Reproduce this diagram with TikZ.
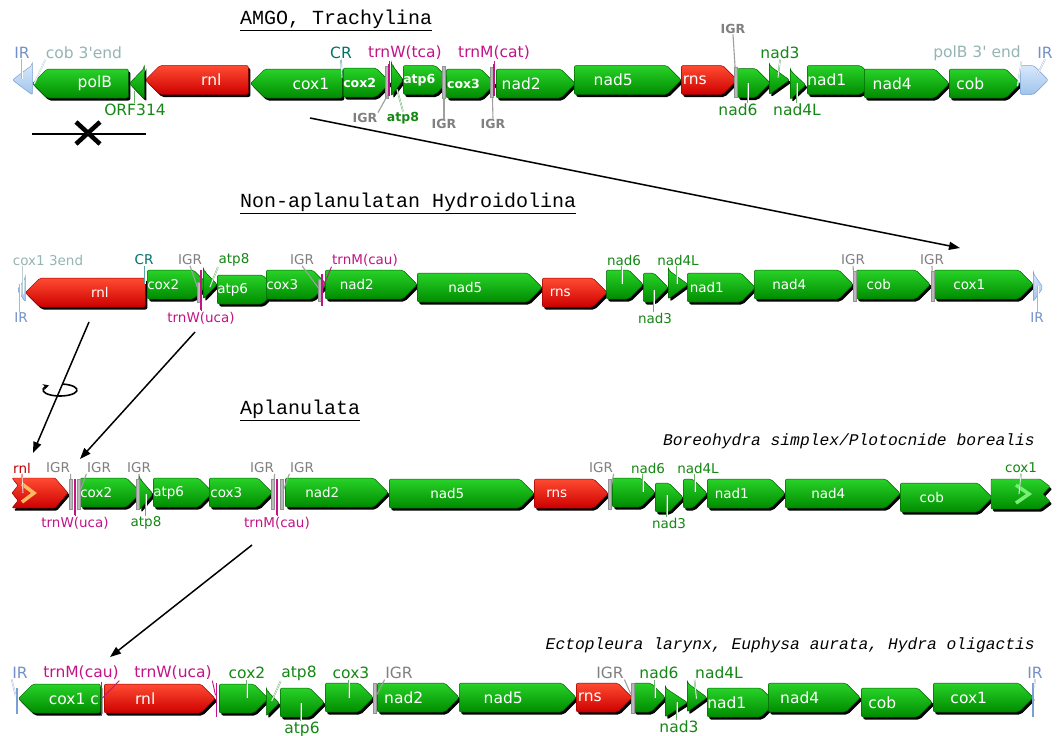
\documentclass[tikz,border=0pt]{standalone}
\usepackage{fontspec}
\setmainfont{DejaVu Sans}
\newfontfamily\plainsans{DejaVu Sans}
\newfontfamily\monofont{Liberation Mono}
\usepackage{xcolor}
\usepackage{tikz}
\usetikzlibrary{shapes.symbols, shapes.geometric, arrows.meta, positioning, calc, shadows}

\definecolor{gtop}{RGB}{40,210,40}
\definecolor{gbot}{RGB}{0,140,0}
\definecolor{gline}{RGB}{0,100,0}
\definecolor{rtop}{RGB}{255,75,50}
\definecolor{rbot}{RGB}{205,0,0}
\definecolor{rline}{RGB}{150,0,0}
\definecolor{btop}{RGB}{215,232,252}
\definecolor{bbot}{RGB}{160,195,235}
\definecolor{bline}{RGB}{120,160,210}
\definecolor{lblgreen}{RGB}{20,135,20}
\definecolor{trnacol}{RGB}{195,20,135}
\definecolor{crteal}{RGB}{0,115,105}
\definecolor{igrgray}{RGB}{128,128,128}
\definecolor{endgray}{RGB}{150,180,180}
\definecolor{irtext}{RGB}{115,145,200}
\definecolor{rnltext}{RGB}{190,0,0}
\definecolor{chevorange}{RGB}{255,185,95}
\definecolor{chevgreen}{RGB}{120,240,120}

\newcommand\genebig{\fontsize{15.5}{18}\selectfont}
\newcommand\genesmall{\fontsize{13.5}{16}\selectfont}
\newcommand\lblbold{\fontsize{12.5}{15}\selectfont\bfseries}
\newcommand\cladefont{\monofont\fontsize{20}{24}\selectfont}
\newcommand\speciesfont{\monofont\itshape\fontsize{16.3}{19}\selectfont}

\begin{document}
\begin{tikzpicture}[
    x=1pt, y=-1pt,
    gshadow/.style={drop shadow={shadow xshift=2pt, shadow yshift=-2.5pt, opacity=1, fill=black}},
    genebase/.style={shape=signal, anchor=west, minimum height=29, inner sep=0pt, rounded corners=2pt, line width=0.5pt, text=white},
    greenfill/.style={draw=gline, top color=gtop, bottom color=gbot},
    redfill/.style={draw=rline, top color=rtop, bottom color=rbot},
    fwdtext/.style={execute at end node={\hspace*{14.5pt}}},
    revtext/.style={execute at begin node={\hspace*{14.5pt}}},
    fg/.style={genebase, signal to=east, greenfill, gshadow},
    rg/.style={genebase, signal to=west, greenfill, gshadow},
    fgl/.style={fg, fwdtext},
    rgl/.style={rg, revtext},
    fr/.style={genebase, signal to=east, redfill, gshadow, fwdtext},
    rr/.style={genebase, signal to=west, redfill, gshadow, revtext},
    fb/.style={genebase, signal to=east, draw=bline, top color=btop, bottom color=bbot},
    rb/.style={genebase, signal to=west, draw=bline, top color=btop, bottom color=bbot},
    tri/.style={minimum width=0pt, signal pointer angle=#1},
    igr/.style={rectangle, fill=gray!55, draw=gray!85, line width=0.3pt, minimum width=3, minimum height=30, inner sep=0pt},
    trna/.style={rectangle, fill=trnacol, minimum width=1.6, minimum height=32, inner sep=0pt},
    irbar/.style={rectangle, fill=bline, minimum width=2, minimum height=26, inner sep=0pt},
    lbl/.style={text=#1, inner sep=0.5pt},
    leader/.style={draw=#1!65, double=white, double distance=0.6pt, line width=0.45pt},
    igrline/.style={draw=gray!75, line width=1.1pt},
    trnaline/.style={draw=trnacol, line width=0.9pt},
    bigarrow/.style={-{Triangle[length=11pt, width=8pt]}, line width=1.5pt}
]
\useasboundingbox[fill=white] (0,0) rectangle (1060,736);

% === ROW 1: AMGO, Trachylina ===
\node[font=\cladefont, anchor=west, inner sep=0pt] (t-amgo) at (240,20) {\underline{AMGO, Trachylina}};
\begin{scope}[font=\genebig]
\node[rb, tri=74, minimum height=30] (a-irl) at (12,80) {};
\node[rgl, minimum width=96] (a-polB) at (32,83.5) {polB};
\node[rg, tri=92, minimum height=31] (a-orf) at (129,83.5) {};
\node[rr, minimum width=103] (a-rnl) at (145,80) {rnl};
\node[rgl, minimum width=92] (a-cox1) at (250,83.5) {cox1};
\node[fg, minimum width=47, font=\lblbold] (a-cox2) at (343,82.5) {cox2};
\node[fg, tri=106, minimum height=32] (a-atp8) at (391,80) {};
\node[fg, minimum width=42, font=\lblbold] (a-atp6) at (403,80) {atp6};
\node[fg, minimum width=49, font=\lblbold] (a-cox3) at (446,83.5) {cox3};
\node[fgl, minimum width=79] (a-nad2) at (496,83.5) {nad2};
\node[fgl, minimum width=107] (a-nad5) at (574,80) {nad5};
\node[fr, minimum width=56] (a-rns) at (681,80) {rns};
\node[fg, minimum width=33] (a-nad6) at (737,83) {};
\node[fg, tri=71] (a-nad3) at (769,80) {};
\node[fg, tri=86] (a-nad4L) at (790,85) {};
\node[fgl, minimum width=57] (a-nad1) at (807,80) {nad1};
\node[fgl, minimum width=85] (a-nad4) at (864,83.5) {nad4};
\node[fgl, minimum width=71] (a-cob) at (949,83.5) {cob};
\node[fb, minimum width=28] (a-irr) at (1020,80) {};

\node[igr, minimum height=32] (a-igr1) at (387,82) {};
\node[trna] (a-trnW) at (389,80) {};
\node[igr, minimum height=32] (a-igr2) at (444,82) {};
\node[igr] (a-igr3) at (492,82) {};
\node[trna] (a-trnM) at (494,80) {};
\node[igr] (a-igr4) at (736,82) {};

\node[lbl=irtext] (a-l-irl) at (22,53) {IR};
\node[lbl=endgray] (a-l-cobend) at (84,53) {\plainsans cob 3'end};
\node[lbl=lblgreen] (a-l-orf) at (135,110) {ORF314};
\node[lbl=crteal] (a-l-cr) at (341,53) {CR};
\node[lbl=trnacol] (a-l-trnW) at (405,53) {trnW(tca)};
\node[lbl=igrgray, font=\lblbold] (a-l-igr1) at (365,118) {IGR};
\node[lbl=lblgreen, font=\lblbold] (a-l-atp8) at (403,118) {atp8};
\node[lbl=igrgray, font=\lblbold] (a-l-igr2) at (444,124) {IGR};
\node[lbl=trnacol] (a-l-trnM) at (494,53) {trnM(cat)};
\node[lbl=igrgray, font=\lblbold] (a-l-igr3) at (493,124) {IGR};
\node[lbl=igrgray, font=\lblbold] (a-l-igr4) at (733,29) {IGR};
\node[lbl=lblgreen] (a-l-nad6) at (738,110) {nad6};
\node[lbl=lblgreen] (a-l-nad3) at (780,53) {nad3};
\node[lbl=lblgreen] (a-l-nad4L) at (797,110) {nad4L};
\node[lbl=endgray] (a-l-polBend) at (977,53) {\plainsans polB 3' end};
\node[lbl=irtext] (a-l-irr) at (1045,53) {IR};
\end{scope}

\draw[leader=irtext] (a-l-irl.south) -- ++(0,20);
\draw[leader=endgray] (a-l-cobend.south west) -- ++(-11,24);
\draw[leader=lblgreen] (a-l-orf.north) -- ++(0,-12);
\draw[leader=crteal] (a-l-cr.south) -- ++(1,18);
\draw[trnaline] (a-l-trnW.south -| a-trnW) -- (a-trnW);
\draw[igrline] (a-l-igr1.north east) -- ++(10,-18);
\draw[leader=lblgreen] (a-l-atp8.north) -- ++(-6,-22);
\draw[igrline] (a-l-igr2.north) -- (a-igr2);
\draw[trnaline] (a-l-trnM.south -| a-trnM) -- (a-trnM);
\draw[igrline] (a-l-igr3.north) -- (a-igr3);
\draw[igrline] (a-l-igr4.south) -- (a-igr4);
\draw[leader=lblgreen] ([xshift=10pt]a-l-nad6.north) -- ++(0,-20);
\draw[leader=lblgreen] (a-l-nad3.south) -- ++(-2,18);
\draw[leader=lblgreen] (a-l-nad4L.north) -- ++(0,-20);
\draw[leader=endgray] (a-l-polBend.south east) -- ++(-4,25);
\draw[leader=irtext] (a-l-irr.south) -- ++(-8,16);

% deleted region under polB
\coordinate (del-a) at (32,134);
\coordinate (del-b) at (146,134);
\coordinate (del-x) at (88,133);
\draw[line width=2.5pt] (del-a) -- (del-b);
\draw[line width=4.5pt] ([shift={(-12,-11)}]del-x) -- ([shift={(12,11)}]del-x)
    ([shift={(-12,11)}]del-x) -- ([shift={(12,-11)}]del-x);

% === ROW 2: Non-aplanulatan Hydroidolina ===
\node[font=\cladefont, anchor=west, inner sep=0pt] (t-non) at (240,203) {\underline{Non-aplanulatan Hydroidolina}};
\begin{scope}[font=\genesmall]
\node[rb, tri=112, minimum height=24] (b-irl) at (17,290) {};
\node[rr, minimum width=120] (b-rnl) at (25,292.5) {rnl};
\node[fgl, minimum width=50] (b-cox2) at (147,284.5) {cox2};
\node[fg, tri=92] (b-atp8) at (203,284.5) {};
\node[fgl, minimum width=48] (b-atp6) at (217,289.5) {atp6};
\node[fgl, minimum width=52] (b-cox3) at (266,284.5) {cox3};
\node[fgl, minimum width=92] (b-nad2) at (325,284.5) {nad2};
\node[fgl, minimum width=125] (b-nad5) at (417,287.5) {nad5};
\node[fr, minimum width=65] (b-rns) at (542,292.5) {rns};
\node[fg, minimum width=37] (b-nad6) at (606,284.5) {};
\node[fg, minimum width=25] (b-nad3) at (643,287.5) {};
\node[fg, tri=72] (b-nad4L) at (668,284.5) {};
\node[fgl, minimum width=68] (b-nad1) at (687,287.5) {nad1};
\node[fgl, minimum width=99] (b-nad4) at (754,284.5) {nad4};
\node[fgl, minimum width=74] (b-cob) at (856,284.5) {cob};
\node[fgl, minimum width=99] (b-cox1) at (934,284.5) {cox1};
\node[fb, tri=110, minimum height=28] (b-irr) at (1033,287.5) {};

\node[igr, minimum height=20] (b-igr1) at (199,292) {};
\node[trna, minimum height=40] (b-trnW) at (201,290) {};
\node[igr, minimum height=22] (b-igr2) at (320,290) {};
\node[trna] (b-trnM) at (322,290) {};
\node[igr] (b-igr3) at (854.5,286) {};
\node[igr] (b-igr4) at (932.5,286) {};

\node[lbl=endgray] (b-l-coxend) at (48,260) {cox1 3end};
\node[lbl=irtext] (b-l-irl) at (21,318) {IR};
\node[lbl=crteal] (b-l-cr) at (144,260) {CR};
\node[lbl=igrgray] (b-l-igr1) at (190,260) {IGR};
\node[lbl=trnacol] (b-l-trnW) at (201,318) {trnW(uca)};
\node[lbl=lblgreen] (b-l-atp8) at (234,260) {atp8};
\node[lbl=igrgray] (b-l-igr2) at (302,260) {IGR};
\node[lbl=trnacol] (b-l-trnM) at (365,260) {trnM(cau)};
\node[lbl=lblgreen] (b-l-nad6) at (624,260) {nad6};
\node[lbl=lblgreen] (b-l-nad3) at (655,318) {nad3};
\node[lbl=lblgreen] (b-l-nad4L) at (678,260) {nad4L};
\node[lbl=igrgray] (b-l-igr3) at (853,260) {IGR};
\node[lbl=igrgray] (b-l-igr4) at (932,260) {IGR};
\node[lbl=irtext] (b-l-irr) at (1037,318) {IR};
\end{scope}

\draw[leader=endgray] ([xshift=-25pt]b-l-coxend.south) -- ++(0,28);
\draw[leader=irtext] ([xshift=-1pt]b-l-irl.north) -- ++(0,-28);
\draw[leader=crteal] ([xshift=1pt]b-l-cr.south) -- ++(0,18);
\draw[igrline] (b-l-igr1.south) -- (b-igr1);
\draw[trnaline] (b-l-trnW.north) -- (b-trnW);
\draw[leader=lblgreen] (b-l-atp8.south west) -- ++(-8,20);
\draw[igrline] (b-l-igr2.south) -- (b-igr2);
\draw[trnaline] (b-l-trnM.south west) -- (b-trnM);
\draw[leader=lblgreen] ([xshift=-2pt]b-l-nad6.south) -- ++(0,18);
\draw[leader=lblgreen] ([xshift=-1pt]b-l-nad3.north) -- ++(0,-22);
\draw[leader=lblgreen] ([xshift=-1pt]b-l-nad4L.south) -- ++(0,18);
\draw[igrline] (b-l-igr3.south) -- (b-igr3);
\draw[igrline] (b-l-igr4.south) -- (b-igr4);
\draw[leader=irtext] ([xshift=1pt]b-l-irr.north) -- ++(0,-26);

% === ROW 3: Aplanulata ===
\node[font=\cladefont, anchor=west, inner sep=0pt] (t-apl) at (240,410) {\underline{Aplanulata}};
\node[font=\speciesfont, anchor=east, inner sep=0pt] (t-bor) at (1035,441) {Boreohydra simplex/Plotocnide borealis};
\begin{scope}[font=\genesmall]
\path[redfill, gshadow, rounded corners=1pt] (12,478) -- (55,478) -- (68,493) -- (55,508) -- (12,508)
    -- (18,500.5) -- (12,493) -- (18,485.5) -- cycle;
\draw[line width=3.5pt, color=chevorange] (22,484) -- (34,493) -- (22,502);
\coordinate (c-rnl) at (23,493);
\node[fgl, minimum width=57] (c-cox2) at (80,492.5) {cox2};
\node[fg, tri=98, minimum height=32] (c-atp8) at (139,494) {};
\node[fgl, minimum width=57] (c-atp6) at (153,492.5) {atp6};
\node[fgl, minimum width=63] (c-cox3) at (209,492.5) {cox3};
\node[fgl, minimum width=103] (c-nad2) at (285,492.5) {nad2};
\node[fgl, minimum width=145] (c-nad5) at (389,493.5) {nad5};
\node[fr, minimum width=74] (c-rns) at (534,493.5) {rns};
\node[fg, minimum width=43] (c-nad6) at (612,492.5) {};
\node[fg, minimum width=28] (c-nad3) at (655,497.5) {};
\node[fg, minimum width=24] (c-nad4L) at (683,493.5) {};
\node[fgl, minimum width=78] (c-nad1) at (707,493.5) {nad1};
\node[fgl, minimum width=115] (c-nad4) at (785,493.5) {nad4};
\node[fgl, minimum width=92] (c-cob) at (900,497.5) {cob};
\path[greenfill, gshadow, rounded corners=1pt] (991,479) -- (1040,479) -- (1050,486.5) -- (1043,494)
    -- (1050,501.5) -- (1040,509) -- (991,509) -- cycle;
\draw[line width=3.5pt, color=chevgreen] (1016,485) -- (1029,494) -- (1016,503);
\coordinate (c-cox1) at (1019,494);

\node[igr] (c-igr1) at (71,494) {};
\node[igr] (c-igr2) at (79,494) {};
\node[trna, minimum height=36] (c-trnW) at (75,497) {};
\node[igr] (c-igr3) at (138,494) {};
\node[igr] (c-igr4) at (273,494) {};
\node[igr] (c-igr5) at (282,494) {};
\node[trna, minimum height=36] (c-trnM) at (277,497) {};
\node[igr] (c-igr6) at (610,494) {};

\node[lbl=rnltext] (c-l-rnl) at (22,468) {rnl};
\node[lbl=igrgray] (c-l-igr1) at (58,468) {IGR};
\node[lbl=igrgray] (c-l-igr2) at (99,468) {IGR};
\node[lbl=trnacol] (c-l-trnW) at (75,523) {trnW(uca)};
\node[lbl=igrgray] (c-l-igr3) at (139,468) {IGR};
\node[lbl=lblgreen] (c-l-atp8) at (146,523) {atp8};
\node[lbl=igrgray] (c-l-igr4) at (262,468) {IGR};
\node[lbl=igrgray] (c-l-igr5) at (302,468) {IGR};
\node[lbl=trnacol] (c-l-trnM) at (277,523) {trnM(cau)};
\node[lbl=igrgray] (c-l-igr6) at (601,468) {IGR};
\node[lbl=lblgreen] (c-l-nad6) at (648,468) {nad6};
\node[lbl=lblgreen] (c-l-nad3) at (669,523) {nad3};
\node[lbl=lblgreen] (c-l-nad4L) at (698,468) {nad4L};
\node[lbl=lblgreen] (c-l-cox1) at (1021,468) {cox1};
\end{scope}

\draw[leader=rnltext] (c-l-rnl.south) -- (c-rnl);
\draw[igrline] (c-l-igr1.south east) -- (c-igr1);
\draw[igrline] (c-l-igr2.south west) -- (c-igr2);
\draw[trnaline] (c-l-trnW.north) -- (c-trnW);
\draw[igrline] (c-l-igr3.south) -- (c-igr3);
\draw[leader=lblgreen] (c-l-atp8.north) -- ++(0,-22);
\draw[igrline] (c-l-igr4.south east) -- (c-igr4);
\draw[igrline] (c-l-igr5.south west) -- (c-igr5);
\draw[trnaline] (c-l-trnM.north) -- (c-trnM);
\draw[igrline] (c-l-igr6.south east) -- (c-igr6);
\draw[leader=lblgreen] ([xshift=-5pt]c-l-nad6.south) -- ++(0,18);
\draw[leader=lblgreen] ([xshift=-2pt]c-l-nad3.north) -- ++(0,-22);
\draw[leader=lblgreen] ([xshift=-3pt]c-l-nad4L.south) -- ++(0,18);
\draw[leader=lblgreen] (c-l-cox1.south) -- (c-cox1);

% === ROW 4: Ectopleura, Euphysa, Hydra ===
\node[font=\speciesfont, anchor=east, inner sep=0pt] (t-ect) at (1035,645) {Ectopleura larynx, Euphysa aurata, Hydra oligactis};
\begin{scope}[font=\genebig]
\node[rgl, minimum width=82] (d-cox1c) at (18,698.5) {cox1 c};
\node[fr, minimum width=111] (d-rnl) at (104,698.5) {rnl};
\node[fg, minimum width=49] (d-cox2) at (219,698.5) {};
\node[fg, tri=90, minimum height=26] (d-atp8) at (266,703) {};
\node[fg, minimum width=44] (d-atp6) at (280,702.5) {};
\node[fg, minimum width=48] (d-cox3) at (325,697.5) {};
\node[fgl, minimum width=82] (d-nad2) at (377,697.5) {nad2};
\node[fgl, minimum width=117] (d-nad5) at (459,697.5) {nad5};
\node[fr, minimum width=56] (d-rns) at (576,697.5) {rns};
\node[fg, minimum width=32] (d-nad6) at (633,697.5) {};
\node[fg, tri=66] (d-nad3) at (665,702.5) {};
\node[fg, tri=72] (d-nad4L) at (687,697.5) {};
\node[fgl, minimum width=63] (d-nad1) at (707,702.5) {nad1};
\node[fgl, minimum width=92] (d-nad4) at (768,697.5) {nad4};
\node[fgl, minimum width=71] (d-cob) at (861,702.5) {cob};
\node[fgl, minimum width=100] (d-cox1) at (933,697.5) {cox1};

\node[irbar] (d-irl) at (17,701) {};
\node[trna, minimum height=34] (d-trnM) at (101.5,699) {};
\node[trna, minimum height=34] (d-trnW) at (216.5,700) {};
\node[igr] (d-igr1) at (375,698) {};
\node[igr] (d-igr2) at (632.5,698) {};
\node[irbar, minimum height=34] (d-irr) at (1033,700) {};

\node[lbl=irtext] (d-l-irl) at (20,673) {IR};
\node[lbl=trnacol] (d-l-trnM) at (81,673) {trnM(cau)};
\node[lbl=trnacol] (d-l-trnW) at (173,673) {trnW(uca)};
\node[lbl=lblgreen] (d-l-cox2) at (247,673) {cox2};
\node[lbl=lblgreen] (d-l-atp8) at (299,673) {atp8};
\node[lbl=lblgreen] (d-l-atp6) at (302,729) {atp6};
\node[lbl=lblgreen] (d-l-cox3) at (351,673) {cox3};
\node[lbl=igrgray] (d-l-igr1) at (399,673) {IGR};
\node[lbl=igrgray] (d-l-igr2) at (610,673) {IGR};
\node[lbl=lblgreen] (d-l-nad6) at (659,673) {nad6};
\node[lbl=lblgreen] (d-l-nad3) at (679,727) {nad3};
\node[lbl=lblgreen] (d-l-nad4L) at (719,673) {nad4L};
\node[lbl=irtext] (d-l-irr) at (1035,673) {IR};
\end{scope}

\draw[leader=irtext] (d-l-irl.south west) -- (d-irl);
\draw[trnaline] (d-l-trnM.south east) -- (d-trnM);
\draw[trnaline] (d-l-trnW.south east) -- (d-trnW);
\draw[leader=lblgreen] (d-l-cox2.south) -- ++(0,18);
\draw[leader=lblgreen] (d-l-atp8.south west) -- ++(-9,20);
\draw[leader=lblgreen] ([xshift=-1pt]d-l-atp6.north) -- ++(0,-18);
\draw[leader=lblgreen] ([xshift=-2pt]d-l-cox3.south) -- ++(0,18);
\draw[igrline] (d-l-igr1.south west) -- (d-igr1);
\draw[igrline] (d-l-igr2.south east) -- (d-igr2);
\draw[leader=lblgreen] ([xshift=-4pt]d-l-nad6.south) -- ++(0,18);
\draw[leader=lblgreen] ([xshift=-2pt]d-l-nad3.north) -- ++(0,-18);
\draw[leader=lblgreen] (d-l-nad4L.south west) -- ++(2,19);
\draw[leader=irtext] (d-l-irr.south) -- (d-irr);

% === ARROWS ===
\coordinate (s1) at (310,118);  \coordinate (e1) at (960,248);
\coordinate (s2) at (89,322);   \coordinate (e2) at (33,453);
\coordinate (s3) at (195,332);  \coordinate (e3) at (80,459);
\coordinate (s4) at (252,545);  \coordinate (e4) at (110,657);
\foreach \a/\b in {s1/e1, s2/e2, s3/e3, s4/e4} {
    \draw[bigarrow] (\a) -- (\b);
}
% rotation mark on the rnl arrow
\coordinate (rot) at (60,390);
\draw[line width=1.6pt, -{Stealth[length=6pt, width=6pt]}] ([shift={(-80:17 and 6)}]rot)
    arc[start angle=-80, end angle=230, x radius=17, y radius=6];

\end{tikzpicture}
\end{document}
